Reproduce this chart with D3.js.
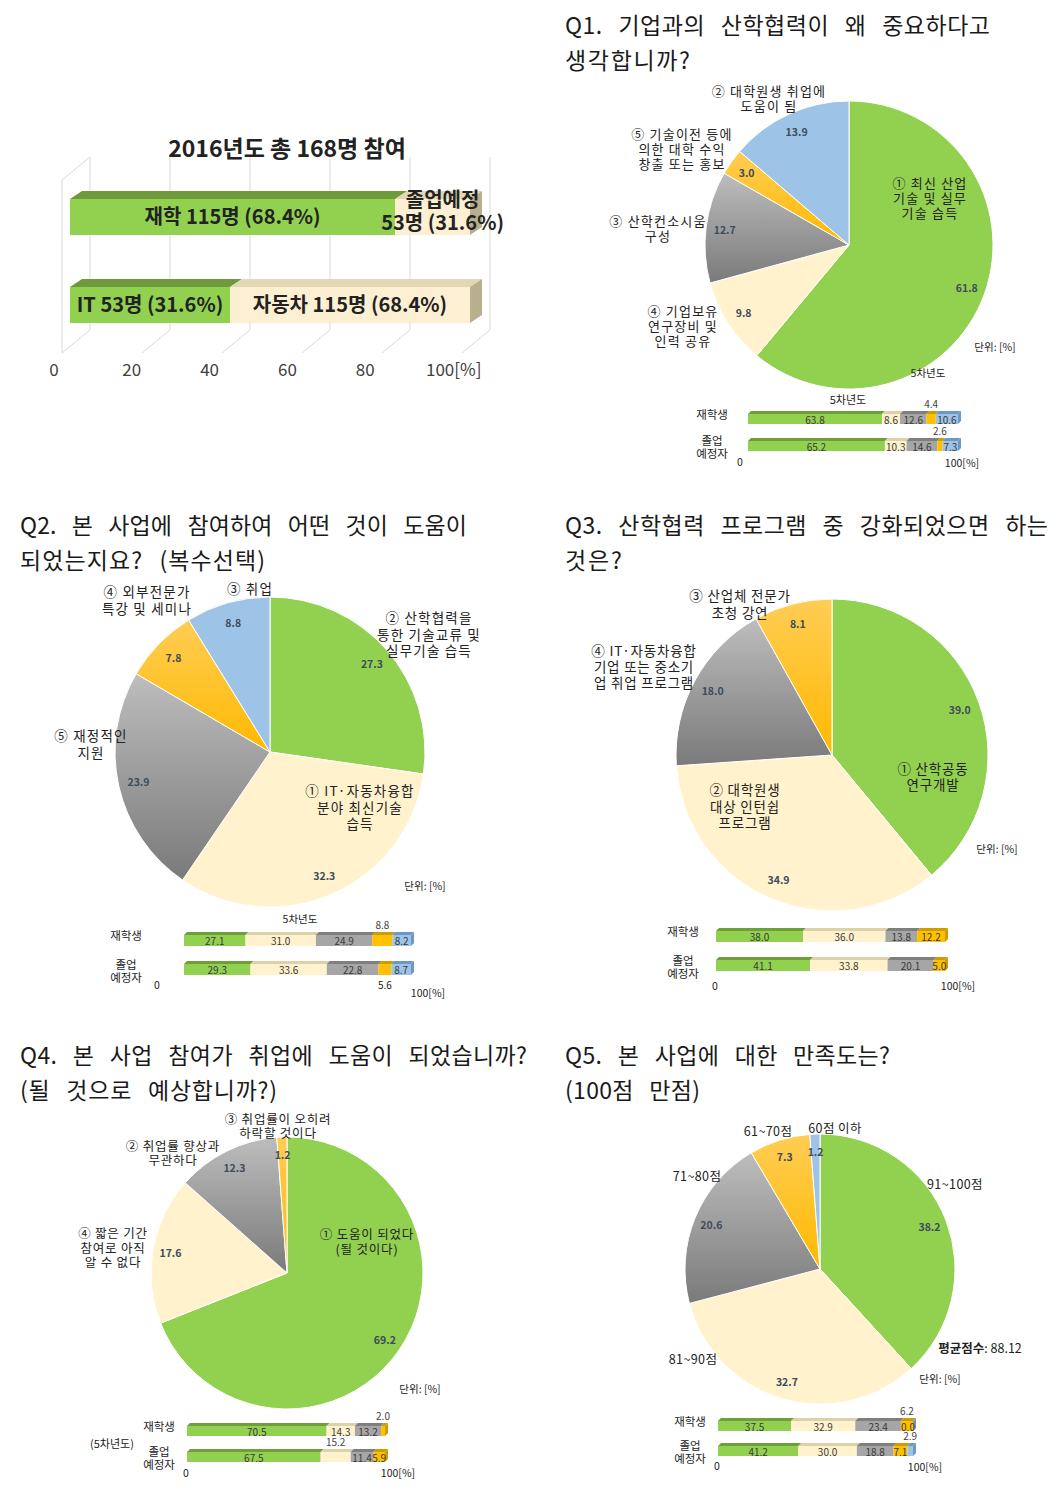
<!DOCTYPE html>
<html>
<head>
<meta charset="utf-8">
<script src="https://cdn.jsdelivr.net/npm/d3@7"></script>
<style>
  body { margin: 0; background: #fff; }
  svg { display: block; }
  text { font-family: "Noto Sans CJK KR", "Noto Sans", sans-serif; fill: #222; }
</style>
</head>
<body>
<div id="chart"></div>
<script>
// ---- 데이터 ----
// 상단 막대: 2016년도 참여자 (그림에 그려진 막대 길이, %)
const topRows = ["재학/졸업예정", "IT/자동차"];
const topRowValues = [[81.3, 18.7], [40.0, 60.0]];
const topRowLabels = [["재학 115명 (68.4%)", "졸업예정|53명 (31.6%)"], ["IT 53명 (31.6%)", "자동차 115명 (68.4%)"]];
const topTicks = [0, 20, 40, 60, 80, 100];

// Q1
const q1Values = [61.8, 9.8, 12.7, 3.0, 13.9];
const q1Cats = ["① 최신 산업|기술 및 실무|기술 습득", "④ 기업보유|연구장비 및|인력 공유", "③ 산학컨소시움|구성", "⑤ 기술이전 등에|의한 대학 수익|창출 또는 홍보", "② 대학원생 취업에|도움이 됨"];
const q1Student = [63.8, 8.6, 12.6, 4.4, 10.6];
const q1Grad = [65.2, 10.3, 14.6, 2.6, 7.3];

// Q2
const q2Values = [27.3, 32.3, 23.9, 7.8, 8.8];
const q2Cats = ["② 산학협력을|통한 기술교류 및|실무기술 습득", "① IT·자동차융합|분야 최신기술|습득", "⑤ 재정적인|지원", "④ 외부전문가|특강 및 세미나", "③ 취업"];
const q2Student = [27.1, 31.0, 24.9, 8.8, 8.2];
const q2Grad = [29.3, 33.6, 22.8, 5.6, 8.7];

// Q3
const q3Values = [39.0, 34.9, 18.0, 8.1];
const q3Cats = ["① 산학공동|연구개발", "② 대학원생|대상 인턴쉽|프로그램", "④ IT·자동차융합|기업 또는 중소기|업 취업 프로그램", "③ 산업체 전문가|초청 강연"];
const q3Student = [38.0, 36.0, 13.8, 12.2];
const q3Grad = [41.1, 33.8, 20.1, 5.0];

// Q4
const q4Values = [69.2, 17.6, 12.3, 1.2];
const q4Cats = ["① 도움이 되었다|(될 것이다)", "④ 짧은 기간|참여로 아직|알 수 없다", "② 취업률 향상과|무관하다", "③ 취업률이 오히려|하락할 것이다"];
const q4Student = [70.5, 14.3, 13.2, 2.0];
const q4Grad = [67.5, 15.2, 11.4, 5.9];

// Q5
const q5Values = [38.2, 32.7, 20.6, 7.3, 1.2];
const q5Cats = ["91~100점", "81~90점", "71~80점", "61~70점", "60점 이하"];
const q5Student = [37.5, 32.9, 23.4, 6.2, 0.0];
const q5Grad = [41.2, 30.0, 18.8, 7.1, 2.9];

const rowNames = ["재학생", "졸업|예정자"];

// ---- 스타일 ----
const palette = ["#92d050", "#fff2cc", "#a6a6a6", "#ffc000", "#9dc3e6"];
const shade = ["#6f9e3a", "#ddd1aa", "#7f7f7f", "#cf9c00", "#6c98c8"];
const pieFill = ["#92d050", "#fff2cc", "url(#gGray)", "url(#gOrange)", "#9dc3e6"];
const fmt = d3.format(".1f");

const W = 1060, H = 1490;
const svg = d3.select("#chart").append("svg").attr("width", W).attr("height", H);

const defs = svg.append("defs");
function grad(id, c0, c1) {
  const lg = defs.append("linearGradient").attr("id", id).attr("x1", 0).attr("y1", 0).attr("x2", 0).attr("y2", 1);
  lg.append("stop").attr("offset", "0%").attr("stop-color", c0);
  lg.append("stop").attr("offset", "100%").attr("stop-color", c1);
}
grad("gGray", "#bdbdbd", "#7a7a7a");
grad("gOrange", "#ffcd55", "#ffb900");

// 여러 줄 텍스트
function multiText(sel, str, x, y, lh, size, opts = {}) {
  const t = sel.append("text").attr("x", x).attr("y", y)
    .attr("text-anchor", opts.anchor || "middle")
    .attr("font-size", size)
    .attr("font-weight", opts.weight || "normal")
    .attr("letter-spacing", opts.ls || 0)
    .attr("dominant-baseline", "central");
  if (opts.fill) t.style("fill", opts.fill);
  str.split("|").forEach((line, i) => {
    t.append("tspan").attr("x", x).attr("dy", i === 0 ? 0 : lh).text(line);
  });
  return t;
}

// ---- 제목 ----
const titles = [
  { x: 565, y: 34, lines: [["Q1. 기업과의 산학협력이 왜 중요하다고", 425], ["생각합니까?", 125]] },
  { x: 20, y: 534, lines: [["Q2. 본 사업에 참여하여 어떤 것이 도움이", 447], ["되었는지요? (복수선택)", 245]] },
  { x: 565, y: 534, lines: [["Q3. 산학협력 프로그램 중 강화되었으면 하는", 483], ["것은?", 57]] },
  { x: 20, y: 1064, lines: [["Q4. 본 사업 참여가 취업에 도움이 되었습니까?", 507], ["(될 것으로 예상합니까?)", 257]] },
  { x: 565, y: 1064, lines: [["Q5. 본 사업에 대한 만족도는?", 325], ["(100점 만점)", 135]] }
];
titles.forEach(t => {
  t.lines.forEach((l, i) => {
    svg.append("text").attr("x", t.x).attr("y", t.y + i * 35)
      .attr("font-size", 23).attr("word-spacing", 10)
      .attr("textLength", l[1]).attr("lengthAdjust", "spacing")
      .style("fill", "#1a1a1a").text(l[0]);
  });
});

// ---- 상단 3D 막대 ----
(function () {
  const g = svg.append("g");
  const x = d3.scaleLinear([0, 100], [70, 470]);
  const tickX = d3.scaleLinear([0, 100], [54, 443]);
  const back = 20, front = -8, wallTop = 157, wallBottom = 330, floorFront = 353;
  const grid = "#d9d9d9";

  // 벽과 바닥 눈금선
  g.append("line").attr("x1", x(0) + back).attr("y1", wallTop).attr("x2", x(0) + front).attr("y2", wallTop + 23).attr("stroke", grid);
  g.append("line").attr("x1", x(0) + front).attr("y1", wallTop + 23).attr("x2", x(0) + front).attr("y2", floorFront).attr("stroke", grid);
  topTicks.forEach(v => {
    g.append("line").attr("x1", x(v) + back).attr("y1", wallTop).attr("x2", x(v) + back).attr("y2", wallBottom).attr("stroke", grid);
    g.append("line").attr("x1", x(v) + back).attr("y1", wallBottom).attr("x2", x(v) + front).attr("y2", floorFront).attr("stroke", grid);
    g.append("text").attr("x", v === 100 ? tickX(v) - 17 : tickX(v)).attr("y", 368)
      .attr("text-anchor", v === 100 ? "start" : "middle").attr("dominant-baseline", "central")
      .attr("font-size", 17).style("fill", "#404040").text(v === 100 ? "100[%]" : v);
  });

  g.append("text").attr("x", 287).attr("y", 147).attr("text-anchor", "middle").attr("dominant-baseline", "central")
    .attr("font-size", 23).attr("font-weight", "bold").text("2016년도 총 168명 참여");

  const rowY = d3.scalePoint(topRows, [199, 287]);
  const h = 36, dx = 12, dy = -8;
  const faces = ["#92d050", "#fdf0d2"], tops = ["#6f9a3c", "#e3d8b6"];
  topRows.forEach((row, r) => {
    const y = rowY(row);
    let acc = 0;
    topRowValues[r].forEach((v, i) => {
      const a = x(acc), b = x(acc + v);
      acc += v;
      g.append("path").attr("d", `M${a},${y}L${a + dx},${y + dy}L${b + dx},${y + dy}L${b},${y}Z`).attr("fill", tops[i]);
      g.append("rect").attr("x", a).attr("y", y).attr("width", b - a).attr("height", h).attr("fill", faces[i]);
    });
    const e = x(acc);
    g.append("path").attr("d", `M${e},${y}L${e + dx},${y + dy}L${e + dx},${y + h + dy}L${e},${y + h}Z`).attr("fill", "#b9ae8e");
  });
  // 막대 안 라벨
  topRows.forEach((row, r) => {
    const y = rowY(row);
    let acc = 0;
    topRowValues[r].forEach((v, i) => {
      const c = x(acc + v / 2);
      acc += v;
      const lines = topRowLabels[r][i];
      const two = lines.includes("|");
      multiText(g, lines, c + (two ? 10 : 0), two ? y - 1 : y + h / 2 - 2, 23, 20, { weight: "bold" });
    });
  });
})();

// ---- 원그래프 ----
function drawPie(cfg) {
  const g = svg.append("g").attr("transform", `translate(${cfg.cx},${cfg.cy})`);
  const arcs = d3.pie().sort(null).value(d => d)(cfg.values);
  const arc = d3.arc().innerRadius(0).outerRadius(cfg.r);
  const lab = d3.arc().innerRadius(cfg.r * 0.87).outerRadius(cfg.r * 0.87);
  g.selectAll("path").data(arcs).join("path")
    .attr("d", arc).attr("fill", (d, i) => pieFill[i])
    .attr("stroke", "#fff").attr("stroke-width", 1);
  g.selectAll("text.v").data(arcs).join("text").attr("class", "v")
    .attr("transform", d => `translate(${lab.centroid(d)})`)
    .attr("text-anchor", "middle").attr("dominant-baseline", "central")
    .attr("font-size", 10.5).attr("font-weight", "bold").style("fill", "#3e4c5c")
    .text(d => fmt(d.data));
  cfg.cats.forEach((c, i) => {
    const p = cfg.catPos[i];
    multiText(svg, c, p[0], p[1], p[2] || 15, cfg.catSize || 12.5, { ls: cfg.ls || 0 });
  });
  (cfg.notes || []).forEach(n => {
    multiText(svg, n[0], n[1], n[2], 14, n[3] || 10.5, { fill: "#222" });
  });
}

drawPie({
  cx: 849, cy: 245, r: 144, values: q1Values, cats: q1Cats, catSize: 13, ls: 1.2,
  catPos: [[930, 182], [683, 310], [658, 220], [682, 133], [769, 90, 14.5]],
  notes: [["단위: [%]", 995, 346], ["5차년도", 928, 372]]
});
drawPie({
  cx: 270, cy: 752, r: 155, values: q2Values, cats: q2Cats, catSize: 13.5, ls: 1.2,
  catPos: [[429, 617, 16.5], [360, 790, 16.5], [91, 735, 17], [147, 591, 17], [250, 588]],
  notes: [["단위: [%]", 425, 885], ["5차년도", 300, 918]]
});
drawPie({
  cx: 832, cy: 755, r: 156, values: q3Values, cats: q3Cats, catSize: 13.5, ls: 0.8,
  catPos: [[933, 768, 16], [745, 789, 16.5], [644, 650, 16], [740, 595, 16.5]],
  notes: [["단위: [%]", 997, 848]]
});
drawPie({
  cx: 287, cy: 1273, r: 136, values: q4Values, cats: q4Cats, catSize: 12.5, ls: 0.8,
  catPos: [[367, 1233, 15], [113, 1232, 14.5], [173, 1145, 13.5], [278, 1118, 14]],
  notes: [["단위: [%]", 420, 1388]]
});
drawPie({
  cx: 820, cy: 1269, r: 135, values: q5Values, cats: q5Cats, catSize: 12.5, ls: 0.4,
  catPos: [[955, 1183], [693, 1358], [697, 1175], [768, 1130], [835, 1127]],
  notes: [["단위: [%]", 940, 1378]]
});
// 평균점수
(function () {
  const t = svg.append("text").attr("x", 980).attr("y", 1347).attr("text-anchor", "middle")
    .attr("dominant-baseline", "central").attr("font-size", 12.5);
  t.append("tspan").attr("font-weight", "bold").text("평균점수");
  t.append("tspan").text(": 88.12");
})();

// ---- 작은 3D 누적 막대 ----
function drawBars(cfg) {
  const g = svg.append("g");
  const x = d3.scaleLinear([0, 100], [cfg.x0, cfg.x1]);
  const d = 3;
  cfg.rows.forEach((vals, r) => {
    const y = cfg.ys[r], h = cfg.h;
    let acc = 0;
    vals.forEach((v, i) => {
      const a = x(acc), b = x(acc + v);
      acc += v;
      g.append("path").attr("d", `M${a},${y}L${a + d},${y - d}L${b + d},${y - d}L${b},${y}Z`).attr("fill", shade[i]);
      g.append("rect").attr("x", a).attr("y", y).attr("width", b - a).attr("height", h).attr("fill", palette[i]);
    });
    const e = x(acc), last = vals.length - 1;
    g.append("path").attr("d", `M${e},${y}L${e + d},${y - d}L${e + d},${y + h - d}L${e},${y + h}Z`).attr("fill", shade[last]);
    // 값 라벨
    acc = 0;
    vals.forEach((v, i) => {
      const c = x(acc + v / 2);
      acc += v;
      const key = `${r}-${i}`;
      const place = cfg.place[key] || "in";
      let ty = y + h / 2, tx = c, fill = "#3a3a3a";
      if (place === "above") { ty = y - d - 8; fill = "#444"; }
      if (place === "below") { ty = y + h + 9; fill = "#222"; }
      if (place === "end") { tx = x(acc) - 5; }
      g.append("text").attr("x", tx).attr("y", ty).attr("text-anchor", "middle").attr("dominant-baseline", "central")
        .attr("font-size", 10).style("fill", fill).text(fmt(v));
    });
    multiText(g, rowNames[r], cfg.nameX, rowNames[r].includes("|") ? y + h / 2 - 6 : y, 13, 11.5);
  });
  g.append("text").attr("x", cfg.zero[0]).attr("y", cfg.zero[1]).attr("text-anchor", "middle")
    .attr("dominant-baseline", "central").attr("font-size", 10.5).text("0");
  g.append("text").attr("x", cfg.full[0]).attr("y", cfg.full[1]).attr("text-anchor", "middle")
    .attr("dominant-baseline", "central").attr("font-size", 10.5).text("100[%]");
}

drawBars({ x0: 748, x1: 958, ys: [414, 441], h: 10, rows: [q1Student, q1Grad], nameX: 712,
  place: { "0-3": "above", "1-3": "above" }, zero: [740, 461], full: [962, 462] });
drawBars({ x0: 184, x1: 411, ys: [935, 964], h: 11, rows: [q2Student, q2Grad], nameX: 126,
  place: { "0-3": "above", "1-3": "below" }, zero: [157, 984], full: [428, 992] });
drawBars({ x0: 716, x1: 945, ys: [931, 960], h: 11, rows: [q3Student, q3Grad], nameX: 683,
  place: {}, zero: [715, 985], full: [958, 985] });
drawBars({ x0: 187, x1: 385, ys: [1426, 1452], h: 10, rows: [q4Student, q4Grad], nameX: 159,
  place: { "0-3": "above", "1-1": "above" }, zero: [186, 1472], full: [398, 1472] });
drawBars({ x0: 718, x1: 913, ys: [1421, 1446], h: 10, rows: [q5Student, q5Grad], nameX: 690,
  place: { "0-3": "above", "0-4": "end", "1-4": "above" }, zero: [717, 1465], full: [925, 1466] });

// 차년도 표기
[["5차년도", 848, 399], ["(5차년도)", 112, 1443]].forEach(n => {
  svg.append("text").attr("x", n[1]).attr("y", n[2]).attr("text-anchor", "middle")
    .attr("dominant-baseline", "central").attr("font-size", 11).text(n[0]);
});
</script>
</body>
</html>
